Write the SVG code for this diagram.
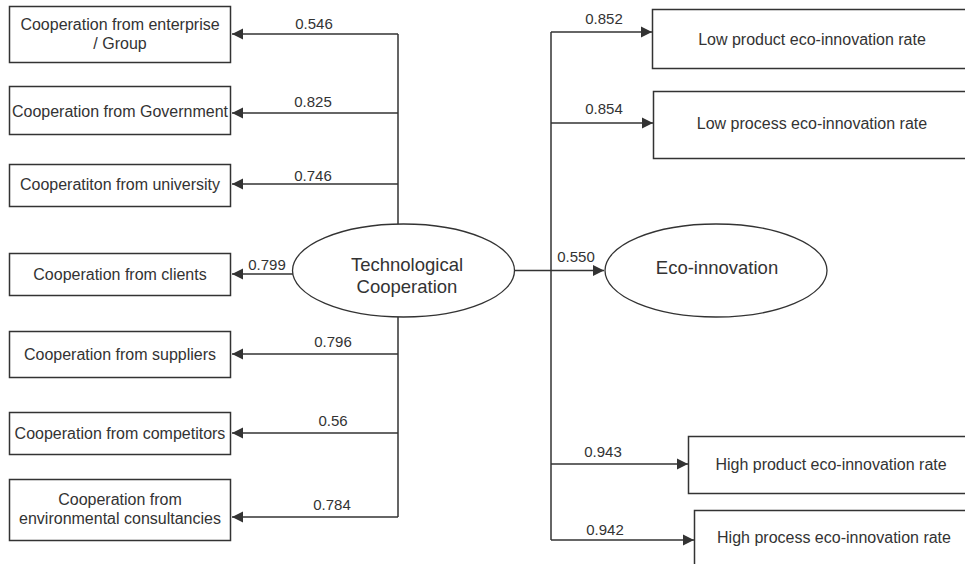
<svg xmlns="http://www.w3.org/2000/svg" width="965" height="564" viewBox="0 0 965 564">
<defs>
<style>
.box{fill:#fff;stroke:#333;stroke-width:1.5}
.ell{fill:#fff;stroke:#333;stroke-width:1.3}
.ln{fill:none;stroke:#333;stroke-width:1.5}
.ar{fill:none;stroke:#333;stroke-width:1.5;marker-end:url(#ah)}
text{font-family:"Liberation Sans",Arial,sans-serif;fill:#333}
.t{font-size:16px;text-anchor:middle}
.big{font-size:18.5px;text-anchor:middle}
.lab{font-size:15px;text-anchor:middle}
</style>
<marker id="ah" markerUnits="userSpaceOnUse" markerWidth="12" markerHeight="12" viewBox="0 0 12 12" refX="11" refY="6" orient="auto">
<path d="M0,0.5 L11,6 L0,11.5 z" fill="#333"/>
</marker>
</defs>
<rect width="965" height="564" fill="#fff"/>
<g id="connectors">
<path class="ln" d="M398,34 V224 M398,317 V517"/>
<path class="ar" d="M398,34 H232"/>
<path class="ar" d="M398,113 H232"/>
<path class="ar" d="M398,184 H232"/>
<path class="ar" d="M293,274 H232"/>
<path class="ar" d="M398,354 H232"/>
<path class="ar" d="M398,433 H232"/>
<path class="ar" d="M398,517 H232"/>
<path class="ln" d="M551,32 V540"/>
<path class="ar" d="M514,270.5 H604"/>
<path class="ar" d="M551,32 H652"/>
<path class="ar" d="M551,123 H653"/>
<path class="ar" d="M551,464 H688"/>
<path class="ar" d="M551,540 H694"/>
<text class="lab" x="314" y="29">0.546</text>
<text class="lab" x="313" y="107">0.825</text>
<text class="lab" x="313" y="181">0.746</text>
<text class="lab" x="267" y="270">0.799</text>
<text class="lab" x="333" y="347">0.796</text>
<text class="lab" x="333" y="426">0.56</text>
<text class="lab" x="332" y="510">0.784</text>
<text class="lab" x="576" y="262">0.550</text>
<text class="lab" x="604" y="24">0.852</text>
<text class="lab" x="604" y="114">0.854</text>
<text class="lab" x="603" y="457">0.943</text>
<text class="lab" x="605" y="535">0.942</text>
</g>
<g id="n-enterprise">
<rect class="box" x="9.5" y="6.5" width="221" height="56"/>
<text class="t" x="120" y="30">Cooperation from enterprise</text>
<text class="t" x="120" y="49">/ Group</text>
</g>
<g id="n-government">
<rect class="box" x="9.5" y="86.5" width="221" height="48"/>
<text class="t" x="120" y="117">Cooperation from Government</text>
</g>
<g id="n-university">
<rect class="box" x="9.5" y="164.5" width="221" height="42"/>
<text class="t" x="120" y="190">Cooperatiton from university</text>
</g>
<g id="n-clients">
<rect class="box" x="9.5" y="253.5" width="221" height="42"/>
<text class="t" x="120" y="280">Cooperation from clients</text>
</g>
<g id="n-suppliers">
<rect class="box" x="9.5" y="331.5" width="221" height="46"/>
<text class="t" x="120" y="360">Cooperation from suppliers</text>
</g>
<g id="n-competitors">
<rect class="box" x="9.5" y="412.5" width="221" height="42"/>
<text class="t" x="120" y="439">Cooperation from competitors</text>
</g>
<g id="n-environmental">
<rect class="box" x="9.5" y="479.5" width="221" height="61"/>
<text class="t" x="120" y="505">Cooperation from</text>
<text class="t" x="120" y="524">environmental consultancies</text>
</g>
<g id="n-techcoop">
<ellipse class="ell" cx="403.5" cy="270.5" rx="111" ry="46.5"/>
<text class="big" x="407" y="271">Technological</text>
<text class="big" x="407" y="293">Cooperation</text>
</g>
<g id="n-eco">
<ellipse class="ell" cx="716" cy="270.5" rx="111" ry="46.5"/>
<text class="big" x="717" y="274">Eco-innovation</text>
</g>
<g id="n-lowproduct">
<rect class="box" x="652.5" y="9.5" width="330" height="59"/>
<text class="t" x="812" y="45">Low product eco-innovation rate</text>
</g>
<g id="n-lowprocess">
<rect class="box" x="653.5" y="91.5" width="330" height="67"/>
<text class="t" x="812" y="129">Low process eco-innovation rate</text>
</g>
<g id="n-highproduct">
<rect class="box" x="688.5" y="436.5" width="300" height="57"/>
<text class="t" x="831" y="470">High product eco-innovation rate</text>
</g>
<g id="n-highprocess">
<rect class="box" x="694.5" y="510.5" width="300" height="80"/>
<text class="t" x="834" y="543">High process eco-innovation rate</text>
</g>
</svg>
